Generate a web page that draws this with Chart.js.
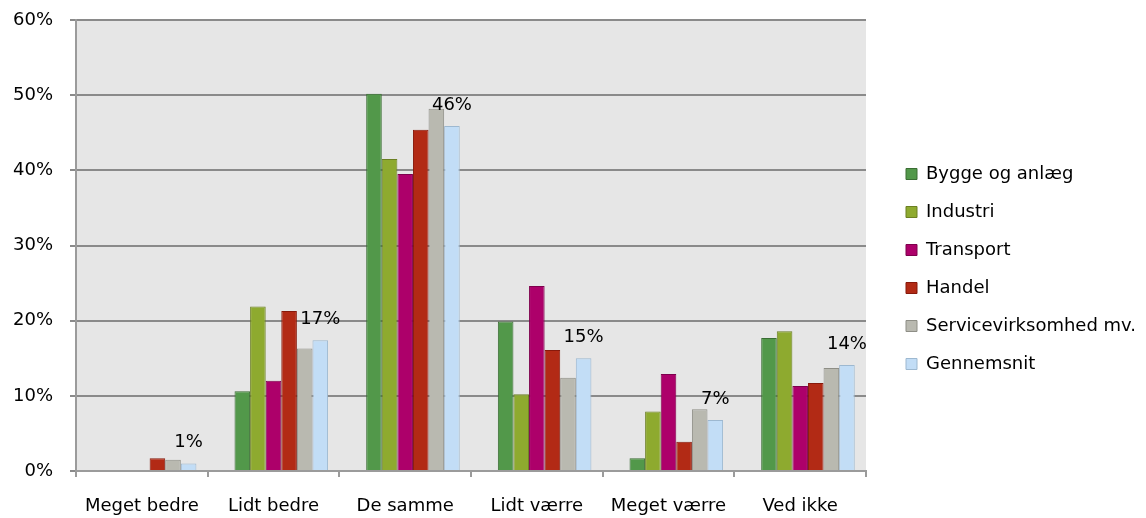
<!DOCTYPE html>
<html>
<head>
<meta charset="utf-8">
<script src="https://cdn.jsdelivr.net/npm/chart.js@4.4.0/dist/chart.umd.min.js"></script>
<style>
  html, body { margin: 0; padding: 0; background: #fff; }
  #wrap { width: 1146px; height: 518px; }
</style>
</head>
<body>
<div id="wrap"><canvas id="svarChart"></canvas></div>
<script>
const categories = ['Meget bedre', 'Lidt bedre', 'De samme', 'Lidt værre', 'Meget værre', 'Ved ikke'];
const seriesNames = ['Bygge og anlæg', 'Industri', 'Transport', 'Handel', 'Servicevirksomhed mv.', 'Gennemsnit'];
const byggeOgAnlaeg = [0, 10.6, 50.2, 19.9, 1.7, 17.7];
const industri = [0, 21.9, 41.5, 10.2, 7.9, 18.6];
const transport = [0, 12.0, 39.5, 24.6, 12.9, 11.3];
const handel = [1.7, 21.3, 45.4, 16.1, 3.9, 11.7];
const service = [1.5, 16.3, 48.2, 12.4, 8.2, 13.7];
const gennemsnit = [1.0, 17.4, 45.9, 15.0, 6.8, 14.1];
// empty slot in front of each group, the original groups sit a half bar right of centre
const spacer = [null, null, null, null, null, null];
const yTicks = [0, 10, 20, 30, 40, 50, 60];

const fills = ['#52984a', '#8eaa2f', '#ad006a', '#b22a15', '#b9b9b0', '#c2ddf6'];
const borders = ['#3a6d33', '#6b7f22', '#7e004d', '#87190b', '#8e8e86', '#9db8d0'];
const fontFamily = 'Verdana, "DejaVu Sans", sans-serif';

Chart.defaults.font.family = fontFamily;
Chart.defaults.font.size = 18;
Chart.defaults.color = '#000';

// grey plot background
const plotBg = {
    id: 'plotBg',
    beforeDraw(chart) {
        const { ctx, chartArea: a } = chart;
        ctx.save();
        ctx.fillStyle = '#e6e6e6';
        ctx.fillRect(a.left, a.top, a.right - a.left, a.bottom - a.top);
        ctx.restore();
    }
};

// percentage labels above the Gennemsnit bars
const avgLabels = {
    id: 'avgLabels',
    afterDatasetsDraw(chart) {
        const idx = chart.data.datasets.findIndex(d => d.label === 'Gennemsnit');
        const meta = chart.getDatasetMeta(idx);
        const ctx = chart.ctx;
        ctx.save();
        ctx.font = '18px ' + fontFamily;
        ctx.fillStyle = '#000';
        ctx.textAlign = 'center';
        ctx.textBaseline = 'middle';
        meta.data.forEach((bar, i) => {
            ctx.fillText(Math.round(gennemsnit[i]) + '%', bar.x, bar.y - 21);
        });
        ctx.restore();
    }
};

// push the legend a bit away from the plot
const legendShift = {
    id: 'legendShift',
    afterLayout(chart) {
        if (chart.legend) {
            chart.legend.left += 20;
            chart.legend.right += 20;
        }
    }
};

const dataSets = [{
    label: '',
    data: spacer,
    backgroundColor: 'rgba(0,0,0,0)',
    borderWidth: 0,
    barPercentage: 1,
    categoryPercentage: 0.829
}].concat([byggeOgAnlaeg, industri, transport, handel, service, gennemsnit].map((values, i) => ({
    label: seriesNames[i],
    data: values,
    backgroundColor: fills[i],
    borderColor: borders[i],
    borderWidth: 1,
    barPercentage: 1,
    categoryPercentage: 0.829
})));

new Chart(document.getElementById('svarChart'), {
    type: 'bar',
    data: { labels: categories, datasets: dataSets },
    options: {
        responsive: true,
        maintainAspectRatio: false,
        animation: false,
        layout: { padding: { left: 13, top: 20, bottom: 0, right: 0 } },
        plugins: {
            legend: {
                position: 'right',
                labels: {
                    boxWidth: 11,
                    boxHeight: 11,
                    padding: 20,
                    color: '#000',
                    font: { size: 18 },
                    filter: item => item.text !== ''
                }
            },
            tooltip: { enabled: false }
        },
        scales: {
            x: {
                grid: {
                    drawOnChartArea: false,
                    drawTicks: true,
                    tickLength: 6,
                    color: '#9b9b9b',
                    lineWidth: 2
                },
                border: { color: '#9b9b9b', width: 2 },
                ticks: { padding: 19, color: '#000', maxRotation: 0 },
                afterFit(scale) {
                    scale.paddingLeft = 0;
                    scale.paddingRight = 280;
                    scale.height = 47;
                }
            },
            y: {
                min: yTicks[0],
                max: yTicks[yTicks.length - 1],
                grid: {
                    color: '#8a8a8a',
                    lineWidth: 2,
                    tickLength: 6
                },
                border: { color: '#9b9b9b', width: 2 },
                ticks: {
                    stepSize: yTicks[1] - yTicks[0],
                    padding: 17,
                    color: '#000',
                    callback: v => v + '%'
                },
                afterFit(scale) {
                    scale.paddingTop = 0;
                    scale.paddingBottom = 0;
                    scale.width = 63;
                }
            }
        }
    },
    plugins: [plotBg, avgLabels, legendShift]
});
</script>
</body>
</html>
